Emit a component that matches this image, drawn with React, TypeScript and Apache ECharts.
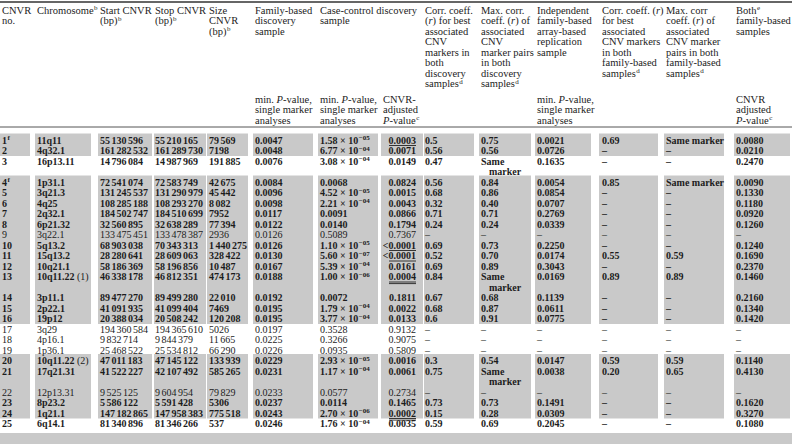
import React, { useEffect, useRef } from "react";
import * as echarts from "echarts";

// ---------- DATA ----------
const cnvrNo = ["1", "2", "3", "4", "5", "6", "7", "8", "9", "10", "11", "12", "13", "14", "15", "16", "17", "18", "19", "20", "21", "22", "23", "24", "25"];
const cnvrNote = ["f", "", "", "f", "", "", "", "", "", "", "", "", "", "", "", "", "", "", "", "", "", "", "", "", ""];
const chromosome = ["11q11", "4q32.1", "16p13.11", "1p31.1", "3q21.3", "4q25", "2q32.1", "6p21.32", "3q22.1", "5q13.2", "15q13.2", "10q21.1", "10q11.22 (1)", "3p11.1", "2p22.1", "19p12", "3q29", "4p16.1", "1p36.1", "10q11.22 (2)", "17q21.31", "12p13.31", "8p23.2", "1q21.1", "6q14.1"];
const startBp = [55130596, 161282532, 14796084, 72541074, 131245537, 108285188, 184502747, 32560895, 133475451, 68903038, 28280641, 58186369, 46338178, 89477270, 41091935, 20388034, 194360584, 9832714, 25468522, 47011183, 41522227, 9525125, 5586122, 147182865, 81340896];
const stopBp = [55210165, 161289730, 14987969, 72583749, 131290979, 108293270, 184510699, 32638289, 133478387, 70343313, 28609063, 58196856, 46812351, 89499280, 41099404, 20508242, 194365610, 9844379, 25534812, 47145122, 42107492, 9604954, 5591428, 147958383, 81346266];
const sizeBp = ["79 569", "7198", "191 885", "42 675", "45 442", "8 082", "7952", "77 394", "2936", "1 440 275", "328 422", "10 487", "474 173", "22 010", "7469", "120 208", "5026", "11 665", "66 290", "133 939", "585 265", "79 829", "5306", "775 518", "537"];
const familyP = ["0.0047", "0.0048", "0.0076", "0.0084", "0.0096", "0.0098", "0.0117", "0.0122", "0.0126", "0.0126", "0.0130", "0.0167", "0.0188", "0.0192", "0.0195", "0.0195", "0.0197", "0.0225", "0.0226", "0.0229", "0.0231", "0.0233", "0.0237", "0.0243", "0.0246"];
const caseP = ["1.58e-05", "6.77e-04", "3.08e-04", "0.0068", "4.52e-05", "2.21e-04", "0.0091", "0.0140", "0.5089", "1.10e-05", "5.60e-07", "5.39e-04", "1.00e-06", "0.0072", "1.79e-04", "3.77e-04", "0.3528", "0.3266", "0.0935", "2.93e-05", "1.17e-04", "0.0577", "0.0114", "2.70e-06", "1.76e-04"];
const cnvrAdjP = ["0.0003", "0.0071", "0.0149", "0.0824", "0.0015", "0.0043", "0.0866", "0.1794", "0.7367", "<0.0001", "<0.0001", "0.0161", "0.0004", "0.1811", "0.0022", "0.0133", "0.9132", "0.9075", "0.5809", "0.0016", "0.0061", "0.2734", "0.1465", "0.0002", "0.0035"];
const adjUnderline = [1, 0, 0, 0, 0, 0, 0, 0, 0, 1, 1, 0, 2, 0, 0, 0, 0, 0, 0, 0, 0, 0, 0, 2, 0];
const corrR = ["0.5", "0.56", "0.47", "0.56", "0.68", "0.32", "0.71", "0.24", "–", "0.69", "0.52", "0.69", "0.84", "0.67", "0.68", "0.6", "–", "–", "–", "0.3", "0.75", "–", "0.73", "0.15", "0.59"];
const maxCorrR = ["0.75", "0.56", "Same marker", "0.84", "0.86", "0.40", "0.71", "0.24", "–", "0.73", "0.70", "0.89", "Same marker", "0.68", "0.87", "0.91", "–", "–", "–", "0.54", "Same marker", "–", "0.73", "0.28", "0.69"];
const replicationP = ["0.0021", "0.0726", "0.1635", "0.0054", "0.0854", "0.0707", "0.2769", "0.0339", "–", "0.2250", "0.0174", "0.3043", "0.0169", "0.1139", "0.0611", "0.0775", "–", "–", "–", "0.0147", "0.0038", "–", "0.1491", "0.0309", "0.2045"];
const corrFamR = ["0.69", "–", "–", "0.85", "–", "–", "–", "–", "–", "–", "0.55", "–", "0.89", "–", "–", "–", "–", "–", "–", "0.59", "0.20", "–", "–", "–", "–"];
const maxCorrFamR = ["Same marker", "–", "–", "Same marker", "–", "–", "–", "–", "–", "–", "0.59", "–", "0.89", "–", "–", "–", "–", "–", "–", "0.59", "0.65", "–", "–", "–", "–"];
const bothAdjP = ["0.0080", "0.0210", "0.2470", "0.0090", "0.1330", "0.1180", "0.0920", "0.1260", "–", "0.1240", "0.1690", "0.2370", "0.1460", "0.2160", "0.1340", "0.1420", "–", "–", "–", "0.1140", "0.4130", "–", "0.1620", "0.3270", "0.1080"];
const shadedGroups = [[1, 2], [4, 16], [20, 24]];

const headerTop = [
  ["CNVR", "no."],
  ["Chromosome{sup|b}"],
  ["Start CNVR", "(bp){sup|b}"],
  ["Stop CNVR", "(bp){sup|b}"],
  ["Size", "CNVR", "(bp){sup|b}"],
  ["Family-based", "discovery", "sample"],
  ["Case-control discovery", "sample"],
  [],
  ["Corr. coeff.", "({i|r}) for best", "associated", "CNV", "markers in", "both", "discovery", "samples{sup|d}"],
  ["Max. corr.", "coeff. ({i|r}) of", "associated", "CNV", "marker pairs", "in both", "discovery", "samples{sup|d}"],
  ["Independent", "family-based", "array-based", "replication", "sample"],
  ["Corr. coeff. ({i|r})", "for best", "associated", "CNV markers", "in both", "family-based", "samples{sup|d}"],
  ["Max. corr", "coeff. ({i|r}) of", "associated", "CNV marker", "pairs in both", "family-based", "samples{sup|d}"],
  ["Both{sup|e}", "family-based", "samples"],
];
const headerBottom = [
  [], [], [], [], [],
  ["min. {i|P}-value,", "single marker", "analyses"],
  ["min. {i|P}-value,", "single marker", "analyses"],
  ["CNVR-", "adjusted", "{i|P}-value{sup|c}"],
  [], [],
  ["min. {i|P}-value,", "single marker", "analyses"],
  [], [],
  ["CNVR", "adjusted", "{i|P}-value{sup|c}"],
];

// ---------- LAYOUT ----------
const W = 792;
const H = 444;
const FONT = "'Liberation Serif', 'Times New Roman', serif";
const FS_HEAD = 10.5;
const FS_BODY = 10;
const TXT = "#1c1c1c";
const SHADE = "#c9c9c9";
const SP = "{s| }";
const colX = [2, 37, 100, 155, 209, 255, 320, 383, 425, 481, 537, 602, 666, 736];
const shadeL = [0, 35, 98, 154, 207, 253, 318, 381, 424, 479, 535, 599, 664, 734];
const shadeR = [30, 91, 152, 206, 248, 313, 378, 423, 474, 531, 591, 658, 724, 790];
const ADJ_RIGHT = 416;
const LINE = 10.5;
const ROW0 = 140;
const HEAD0 = 10;
const HEADB0 = 99;

const fmtBp = (n: number) => String(n).replace(/\B(?=(\d{3})+(?!\d))/g, SP);
const fmtP = (s: string) => {
  const m = s.match(/^([\d.]+)e-(\d+)$/);
  if (!m) return s;
  return `${m[1]} × 10{sup|−${m[2]}}`;
};

function richStyles(weight: string, fs: number) {
  return {
    sup: { fontSize: 7, fontFamily: FONT, fontWeight: weight, fill: TXT, verticalAlign: "top", lineHeight: 11, padding: [0, 0, 0, 0.5] },
    i: { fontSize: fs, fontFamily: FONT, fontStyle: "italic", fontWeight: weight, fill: TXT, lineHeight: 11 },
    n: { fontSize: fs, fontFamily: FONT, fontWeight: "normal", fill: TXT, lineHeight: 11 },
    s: { fontSize: 6, fontFamily: FONT, fontWeight: weight, fill: TXT, lineHeight: 11 },
  };
}

function textEl(x: number, y: number, text: string, weight = "normal", align = "left", fs = FS_BODY) {
  return {
    type: "text",
    x,
    y,
    z: 10,
    silent: true,
    style: {
      text,
      fontSize: fs,
      fontFamily: FONT,
      fontWeight: weight,
      fill: TXT,
      lineHeight: 11,
      textAlign: align,
      align,
      textVerticalAlign: "middle",
      verticalAlign: "middle",
      rich: richStyles(weight, fs),
    },
  };
}

function buildElements() {
  const els: any[] = [];
  // rules
  els.push({ type: "line", z: 5, shape: { x1: 0, y1: 2, x2: W, y2: 2 }, style: { stroke: "#333", lineWidth: 1.3 } });
  els.push({ type: "line", z: 5, shape: { x1: 0, y1: 127, x2: W, y2: 127 }, style: { stroke: "#555", lineWidth: 1 } });

  // header
  headerTop.forEach((lines, c) => {
    lines.forEach((t, k) => els.push(textEl(colX[c], HEAD0 + k * LINE, t, "normal", "left", FS_HEAD)));
  });
  headerBottom.forEach((lines, c) => {
    lines.forEach((t, k) => els.push(textEl(colX[c], HEADB0 + k * LINE, t, "normal", "left", FS_HEAD)));
  });

  // row positions
  const rowLines = maxCorrR.map((v) => (v === "Same marker" ? 2 : 1));
  const rowY: number[] = [];
  let acc = 0;
  rowLines.forEach((n) => {
    rowY.push(ROW0 + acc * LINE);
    acc += n;
  });

  // shading
  shadedGroups.forEach(([a, b]) => {
    const top = rowY[a - 1] - 6.5;
    const bottom = rowY[b - 1] + (rowLines[b - 1] - 1) * LINE + 5.5;
    shadeL.forEach((l, c) => {
      els.push({ type: "rect", z: 1, silent: true, shape: { x: l, y: top, width: shadeR[c] - l, height: bottom - top }, style: { fill: SHADE } });
    });
  });
  // bottom band
  els.push({ type: "rect", z: 1, silent: true, shape: { x: 0, y: 433, width: W, height: H - 433 }, style: { fill: SHADE } });

  // data rows
  cnvrNo.forEach((no, i) => {
    const y = rowY[i];
    const w = corrR[i] === "–" ? "normal" : "bold";
    els.push(textEl(colX[0], y, cnvrNote[i] ? `${no}{sup|${cnvrNote[i]}}` : no, w));
    const chr = chromosome[i].replace(/ (\(\d\))$/, " {n|$1}");
    els.push(textEl(colX[1], y, chr, w));
    els.push(textEl(colX[2], y, fmtBp(startBp[i]), w));
    els.push(textEl(colX[3], y, fmtBp(stopBp[i]), w));
    els.push(textEl(colX[4], y, sizeBp[i].replace(/ /g, SP), w));
    els.push(textEl(colX[5], y, familyP[i], w));
    els.push(textEl(colX[6], y, fmtP(caseP[i]), w));
    els.push(textEl(ADJ_RIGHT, y, cnvrAdjP[i], w, "right"));
    for (let u = 0; u < adjUnderline[i]; u++) {
      const ly = y + 5.5 + u * 1.6;
      els.push({ type: "line", z: 11, shape: { x1: 389, y1: ly, x2: ADJ_RIGHT, y2: ly }, style: { stroke: "#222", lineWidth: 0.9 } });
    }
    els.push(textEl(colX[8], y, corrR[i], w));
    if (maxCorrR[i] === "Same marker") {
      els.push(textEl(colX[9], y, "Same", w));
      els.push(textEl(colX[9] + 8, y + LINE, "marker", w));
    } else {
      els.push(textEl(colX[9], y, maxCorrR[i], w));
    }
    els.push(textEl(colX[10], y, replicationP[i], w));
    els.push(textEl(colX[11], y, corrFamR[i], w));
    els.push(textEl(colX[12], y, maxCorrFamR[i], w));
    els.push(textEl(colX[13], y, bothAdjP[i], w));
  });
  return els;
}

export default function App() {
  const ref = useRef<HTMLDivElement>(null);
  useEffect(() => {
    document.body.style.margin = "0";
    const chart = echarts.init(ref.current!, undefined, { renderer: "svg" });
    chart.setOption({
      animation: false,
      backgroundColor: "#ffffff",
      graphic: { elements: buildElements() },
    });
    return () => chart.dispose();
  }, []);
  return <div ref={ref} style={{ position: "fixed", left: 0, top: 0, width: W, height: H }} />;
}
